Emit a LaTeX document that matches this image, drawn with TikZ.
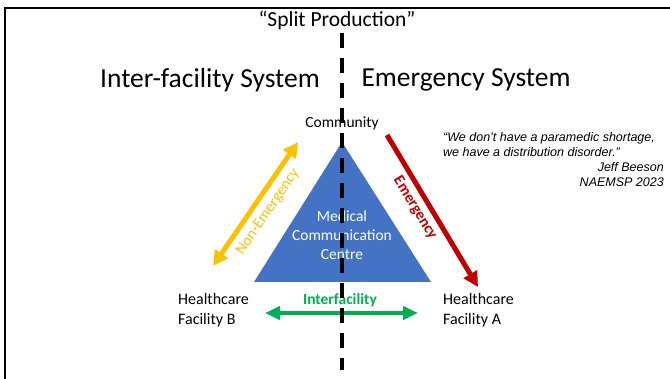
\documentclass[tikz,border=0pt]{standalone}
\usepackage{fontspec}
\setmainfont{Carlito}
\newfontfamily\arialfont{Liberation Sans}
\usetikzlibrary{arrows.meta}
\definecolor{triblue}{HTML}{4472C4}
\definecolor{ayellow}{HTML}{FFC000}
\definecolor{ared}{HTML}{C00000}
\definecolor{agreen}{HTML}{00B050}
\tikzset{
  lbl/.style={inner sep=0pt, font=\fontsize{15.5}{20}\selectfont},
  bigttl/.style={inner sep=0pt, font=\fontsize{27.5}{30}\selectfont},
  fatarrow/.style={line width=5pt, -{Triangle[length=15pt,width=15pt]}},
  quotetxt/.style={inner sep=0pt, font=\arialfont\itshape\fontsize{12.5}{15}\selectfont},
}
\begin{document}
\begin{tikzpicture}[x=1pt,y=-1pt]
\useasboundingbox (0,0) rectangle (670,379);
% frame
\draw[line width=2.5pt] (5,379) -- (5,8) -- (671,8);
% triangle
\coordinate (apex) at (342,142);
\coordinate (bl) at (254,282);
\coordinate (br) at (431,282);
\fill[triblue] (apex) -- (br) -- (bl) -- cycle;
\node[lbl, text=white, align=center, font=\fontsize{15.5}{19}\selectfont] (mcc) at (342,235) {Medical\\Communication\\Centre};
% titles
\node[inner sep=0pt, font=\fontsize{21.5}{24}\selectfont] (split) at (337,20) {“Split Production”};
\node[bigttl] (inter) at (210,80) {Inter-facility System};
\node[bigttl] (emerg) at (466,80) {Emergency System};
\node[lbl] (community) at (342,123) {Community};
\node[lbl, anchor=west, align=left, font=\fontsize{16}{20}\selectfont] (facb) at (178,310) {Healthcare\\Facility B};
\node[lbl, anchor=west, align=left, font=\fontsize{16}{20}\selectfont] (faca) at (443,310) {Healthcare\\Facility A};
% arrows
\coordinate (ya) at (213,266);
\coordinate (yb) at (298,142);
\draw[line width=5pt, ayellow, {Triangle[length=15pt,width=15pt]}-{Triangle[length=15pt,width=15pt]}] (ya) -- (yb);
\node[lbl, text=ayellow, rotate=55.7] (nonem) at (268,212) {Non-Emergency};
\coordinate (ra) at (387,135);
\coordinate (rb) at (478,287);
\draw[fatarrow, ared] (ra) -- (rb);
\node[lbl, text=ared, rotate=-58.5, font=\bfseries\fontsize{15.5}{20}\selectfont] (emtxt) at (415,208) {Emergency};
\coordinate (ga) at (265,313);
\coordinate (gb) at (418,313);
\draw[line width=4pt, agreen, {Triangle[length=15pt,width=13pt]}-{Triangle[length=15pt,width=13pt]}] (ga) -- (gb);
\node[lbl, text=agreen, font=\bfseries\fontsize{15.5}{20}\selectfont] (interf) at (340,300) {Interfacility};
% quote
\node[quotetxt, anchor=north west, align=left] (quote) at (443,132) {“We don’t have a paramedic shortage,\\we have a distribution disorder.”};
\node[quotetxt, anchor=north east, align=right] (who) at (664,162) {Jeff Beeson\\NAEMSP 2023};
% dashed divider
\coordinate (dtop) at (342,33);
\coordinate (dbot) at (342,370);
\draw[line width=4pt, dash pattern=on 15pt off 10pt] (dtop) -- (dbot);
\end{tikzpicture}
\end{document}
